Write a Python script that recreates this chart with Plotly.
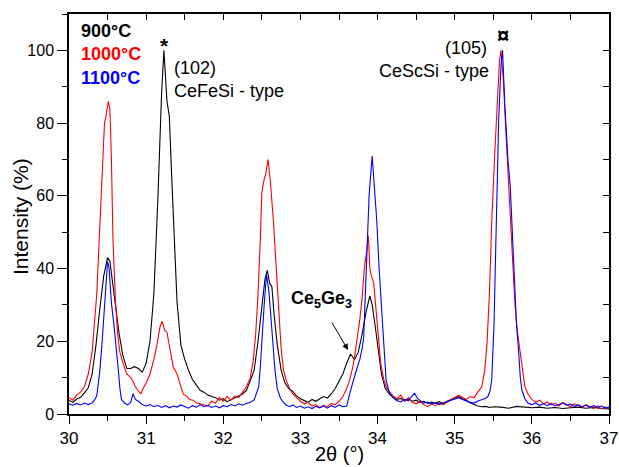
import plotly.graph_objects as go

# ---- data: (2theta, intensity %) ----
s900 = [(30.00,3.8),(30.05,3.2),(30.10,4.1),(30.15,4.6),(30.20,5.8),(30.25,7.2),(30.30,11),(30.35,19),(30.40,29),(30.45,38),
        (30.50,43),(30.53,42),(30.56,37),(30.60,30),(30.65,22),(30.70,16),(30.75,12.5),(30.80,12.5),(30.85,13),(30.90,12.5),
        (30.95,11.5),(31.00,14),(31.05,20),(31.10,33),(31.15,58),(31.20,88),(31.23,100),(31.27,86),(31.30,82),(31.33,66),
        (31.37,45),(31.40,31),(31.45,19),(31.50,15),(31.55,12),(31.60,9.5),(31.65,8),(31.70,6.5),(31.75,6),(31.80,5.2),
        (31.85,4.8),(31.90,4.5),(31.95,3.8),(32.00,4.2),(32.05,3.4),(32.10,3.9),(32.15,4.4),(32.20,5),(32.25,5.5),(32.30,6.5),
        (32.35,9),(32.40,12),(32.45,20),(32.50,30),(32.54,37),(32.57,39.5),(32.60,36),(32.63,35),(32.66,27),(32.70,19),
        (32.75,12),(32.80,8.5),(32.85,7),(32.90,6.2),(32.95,5),(33.00,4.2),(33.05,3.6),(33.10,3.2),(33.15,4),(33.20,3.5),
        (33.25,4.2),(33.30,4.8),(33.35,4.4),(33.40,5.5),(33.45,7),(33.50,9),(33.55,11),(33.60,14),(33.65,16.5),(33.70,15),
        (33.75,17),(33.80,22),(33.85,28),(33.90,32.5),(33.93,30),(33.97,24),(34.00,19),(34.05,11),(34.10,7),(34.15,5.5),
        (34.20,4.6),(34.25,4),(34.30,4.3),(34.35,3.6),(34.40,4.1),(34.45,3.5),(34.50,3.8),(34.55,3.2),(34.60,3.5),(34.65,2.9),
        (34.70,3.3),(34.75,3.0),(34.80,3.4),(34.85,2.8),(34.90,3.5),(34.95,3.9),(35.00,4.3),(35.05,4.8),(35.10,4.2),(35.15,3.8),
        (35.20,3.1),(35.25,2.6),(35.30,2.2),(35.35,2.0),(35.40,2.1),(35.45,1.8),(35.50,2.0),(35.60,1.9),(35.70,1.6),(35.80,2.1),
        (35.90,1.8),(36.00,1.7),(36.10,1.9),(36.20,1.6),(36.30,1.8),(36.40,1.5),(36.50,1.7),(36.60,1.9),(36.70,1.6),(36.80,1.8),
        (36.90,1.5),(37.00,1.4)]

s1000 = [(30.00,4.5),(30.05,3.8),(30.10,5.2),(30.15,6.0),(30.20,7.5),(30.25,11),(30.30,17),(30.33,24),(30.36,33),(30.40,52),
         (30.43,68),(30.46,80),(30.48,82),(30.51,86),(30.53,84),(30.55,70),(30.57,48),(30.60,32),(30.63,22),(30.66,17),
         (30.70,14),(30.75,11),(30.80,10),(30.83,9),(30.86,7.5),(30.89,6.5),(30.93,5.5),(30.96,7),(31.00,8.5),(31.05,11),
         (31.10,15),(31.14,19),(31.18,24),(31.21,25.5),(31.24,23),(31.27,22.5),(31.31,18),(31.35,13),(31.40,11),(31.44,8),
         (31.48,5.5),(31.52,5),(31.56,4),(31.61,3.8),(31.65,3),(31.70,2.8),(31.75,2.5),(31.80,2.2),(31.85,3.5),(31.90,3),
         (31.95,4.5),(32.00,3.5),(32.05,4.8),(32.10,3.8),(32.15,5),(32.20,4.5),(32.25,6),(32.30,7.5),(32.35,10),(32.39,15),
         (32.42,22),(32.45,33),(32.48,48),(32.50,61),(32.53,64.5),(32.55,66),(32.58,70),(32.61,64),(32.65,53),(32.68,42),
         (32.71,30.5),(32.75,18),(32.78,12),(32.82,9),(32.86,7),(32.90,5.5),(32.95,4.5),(33.00,3.5),(33.05,2.8),(33.10,3.2),
         (33.15,2.2),(33.20,2.6),(33.25,1.8),(33.30,2.4),(33.35,2.0),(33.40,2.9),(33.45,2.5),(33.50,3.5),(33.55,4.8),(33.60,7),
         (33.64,9.5),(33.68,13),(33.71,17),(33.74,21),(33.77,26),(33.80,32),(33.83,40.5),(33.86,45),(33.88,49),(33.90,40),
         (33.92,38),(33.95,36),(33.98,29),(34.01,21),(34.04,14),(34.08,9.5),(34.12,7),(34.16,6),(34.20,5),(34.25,4.2),
         (34.30,5.2),(34.35,3.5),(34.40,4.5),(34.45,3.2),(34.50,2.8),(34.55,3.5),(34.60,2.5),(34.65,2.0),(34.70,2.8),(34.75,2.3),
         (34.80,3.0),(34.85,2.6),(34.90,3.3),(34.95,3.8),(35.00,4.5),(35.05,5.2),(35.10,4.6),(35.15,4.0),(35.20,4.8),(35.25,4.5),
         (35.30,6),(35.35,7.5),(35.39,12),(35.42,20),(35.45,33),(35.48,53),(35.52,72),(35.55,86),(35.58,97),(35.60,100),
         (35.63,92),(35.66,79),(35.69,66),(35.72,53),(35.75,41),(35.78,30.5),(35.81,23),(35.85,16.5),(35.88,11),(35.91,7.5),
         (35.95,5.5),(36.00,4),(36.05,3.2),(36.10,3.8),(36.15,2.8),(36.20,3.3),(36.25,2.5),(36.30,3.0),(36.35,2.2),(36.40,3.2),
         (36.45,2.6),(36.50,2.0),(36.55,2.8),(36.60,2.3),(36.65,1.9),(36.70,2.6),(36.75,2.0),(36.80,1.5),(36.85,2.3),(36.90,1.4),
         (36.95,1.9),(37.00,1.6)]

s1100 = [(30.00,2.8),(30.05,2.4),(30.10,2.9),(30.15,2.5),(30.20,3.0),(30.25,2.6),(30.30,3.1),(30.33,3.8),(30.36,5),(30.40,12),
         (30.43,20),(30.45,26),(30.48,36),(30.50,42),(30.52,40),(30.55,30.5),(30.58,25),(30.60,21),(30.62,16),(30.64,12),
         (30.66,7),(30.68,4),(30.72,3),(30.76,2.5),(30.80,3.2),(30.83,5.6),(30.86,4),(30.90,3.5),(30.95,2.6),(31.00,2.2),
         (31.05,2.6),(31.10,2.0),(31.15,2.4),(31.20,1.8),(31.25,2.3),(31.30,1.7),(31.35,2.2),(31.40,1.9),(31.45,2.5),(31.50,2.1),
         (31.55,1.6),(31.60,2.3),(31.65,1.9),(31.70,2.6),(31.75,2.0),(31.80,2.4),(31.85,1.8),(31.90,2.2),(31.95,1.7),(32.00,2.3),
         (32.05,2.0),(32.10,2.6),(32.15,2.2),(32.20,2.8),(32.25,2.4),(32.30,2.9),(32.35,3.2),(32.40,3.9),(32.43,5.5),(32.46,7.5),
         (32.48,13),(32.50,21),(32.53,30),(32.56,38.3),(32.59,34),(32.62,26),(32.65,18),(32.67,12),(32.70,7),(32.74,4.4),
         (32.78,3.2),(32.82,2.4),(32.86,2.0),(32.90,2.5),(32.95,1.8),(33.00,2.2),(33.05,1.6),(33.10,2.0),(33.15,1.5),(33.20,2.1),
         (33.25,1.7),(33.30,2.2),(33.35,1.6),(33.40,2.3),(33.45,1.8),(33.50,2.5),(33.55,2.0),(33.60,2.2),(33.64,5.7),(33.68,9),
         (33.71,11),(33.74,13),(33.77,15),(33.80,18),(33.82,21),(33.84,32),(33.86,44),(33.89,60),(33.93,71),(33.96,63),
         (33.99,53),(34.02,40),(34.06,26),(34.09,15),(34.11,9.4),(34.15,6),(34.19,4.8),(34.24,3.8),(34.30,3.3),(34.35,4),
         (34.40,3.6),(34.44,4.8),(34.48,5.7),(34.52,4.2),(34.56,3.6),(34.60,3.0),(34.65,3.3),(34.70,2.8),(34.75,3.1),(34.80,2.6),
         (34.85,3.0),(34.90,3.4),(34.95,3.8),(35.00,4.2),(35.05,4.5),(35.10,4.0),(35.15,3.5),(35.20,3.2),(35.25,3.0),(35.30,3.6),
         (35.35,3.9),(35.40,4.3),(35.43,4.8),(35.46,6.5),(35.48,9.4),(35.51,25),(35.53,44),(35.55,63),(35.57,81),(35.60,96),
         (35.62,100),(35.65,85),(35.69,70),(35.72,62.6),(35.75,50),(35.78,35),(35.80,25),(35.83,16.7),(35.85,10),(35.87,6.6),
         (35.91,4.2),(35.95,3.0),(36.00,2.6),(36.05,3.0),(36.10,2.4),(36.15,2.8),(36.20,2.3),(36.25,2.9),(36.30,2.2),(36.35,2.6),
         (36.40,3.0),(36.45,2.4),(36.50,2.7),(36.55,2.1),(36.60,2.5),(36.65,2.0),(36.70,2.4),(36.75,1.9),(36.80,2.3),(36.85,1.8),
         (36.90,2.2),(36.95,1.7),(37.00,1.9)]

series_names = ["900°C", "1000°C", "1100°C"]
series_colors = ["#000000", "#ff0000", "#0000ff"]
x_range = [30, 37]
y_range = [0, 110]

FONT = "Liberation Sans, Arial, sans-serif"

fig = go.Figure()
for data, name, col, ax in zip([s900, s1000, s1100], series_names, series_colors, ["x", "x", "x2"]):
    fig.add_trace(go.Scatter(
        x=[p[0] for p in data], y=[p[1] for p in data], mode="lines", name=name,
        line=dict(color=col, width=1.1), showlegend=False,
        xaxis=ax, yaxis=("y" if ax == "x" else "y2"),
    ))

W, H = 619, 467
L, R, T, B = 69, 10, 14, 53
PW, PH = W - L - R, H - T - B


def P(px, py):
    return (px - L) / PW, (H - B - py) / PH


fig.update_layout(
    width=W, height=H,
    margin=dict(l=L, r=R, t=T, b=B, autoexpand=False),
    paper_bgcolor="white", plot_bgcolor="white",
    font=dict(family=FONT, color="black"),
    xaxis=dict(range=x_range, tick0=30, dtick=1, ticks="outside", ticklen=8, tickwidth=1.3,
               tickcolor="black", showline=True, linecolor="black", linewidth=1.5, automargin=False,
               showgrid=False, zeroline=False, tickfont=dict(size=17, family=FONT),
               minor=dict(dtick=0.5, ticks="outside", ticklen=5, tickwidth=1.3, tickcolor="black", showgrid=False)),
    xaxis2=dict(range=x_range, overlaying="x", side="top", tick0=30, dtick=0.5, ticks="inside", ticklen=6,
                tickwidth=1.3, tickcolor="black", showline=True, linecolor="black", linewidth=1.5, automargin=False,
                showticklabels=False, showgrid=False, zeroline=False),
    yaxis=dict(range=y_range, tick0=0, dtick=20, ticks="outside", ticklen=10, tickwidth=1.3,
               tickcolor="black", showline=True, linecolor="black", linewidth=1.5, automargin=False,
               showgrid=False, zeroline=False, tickfont=dict(size=16, family=FONT),
               minor=dict(dtick=10, ticks="outside", ticklen=5, tickwidth=1.3, tickcolor="black", showgrid=False)),
    yaxis2=dict(range=y_range, overlaying="y", side="right", tick0=0, dtick=10, ticks="inside", ticklen=6,
                tickwidth=1.3, tickcolor="black", showline=True, linecolor="black", linewidth=1.5, automargin=False,
                showticklabels=False, showgrid=False, zeroline=False),
)

ann = []


def text(px, py, s, size=18, bold=False, color="black", xanchor="left", yanchor="middle", angle=0):
    x, y = P(px, py)
    ann.append(dict(x=x, y=y, xref="paper", yref="paper", text=(f"<b>{s}</b>" if bold else s),
                    showarrow=False, xanchor=xanchor, yanchor=yanchor, textangle=angle,
                    font=dict(size=size, color=color, family=FONT)))


# legend-like coloured labels
text(79, 31, series_names[0], 18, True, series_colors[0])
text(79, 54, series_names[1], 18, True, series_colors[1])
text(79, 78, series_names[2], 18, True, series_colors[2])

# peak labels
text(164, 46, "*", 21, True, xanchor="center")
text(172, 68, "(102)", 18)
text(172, 91, "CeFeSi - type", 18)
text(489, 48, "(105)", 18, xanchor="right")
text(491, 71, "CeScSi - type", 18, xanchor="right")
text(503, 35, "¤", 22, True, xanchor="center")
text(289, 299, "Ce<sub>5</sub>Ge<sub>3</sub>", 18, True)

# arrow towards the Ce5Ge3 shoulder
hx, hy = P(348, 350)
ann.append(dict(x=hx, y=hy, xref="paper", yref="paper", ax=-17, ay=-29, text="", showarrow=True,
                arrowhead=2, arrowsize=1.2, arrowwidth=1, arrowcolor="black"))

# axis titles
text(339, 454, "2θ (°)", 20, xanchor="center")
text(20, 217, "Intensity (%)", 21, xanchor="center", angle=-90)

fig.update_layout(annotations=ann)
fig.write_html("out.html")
